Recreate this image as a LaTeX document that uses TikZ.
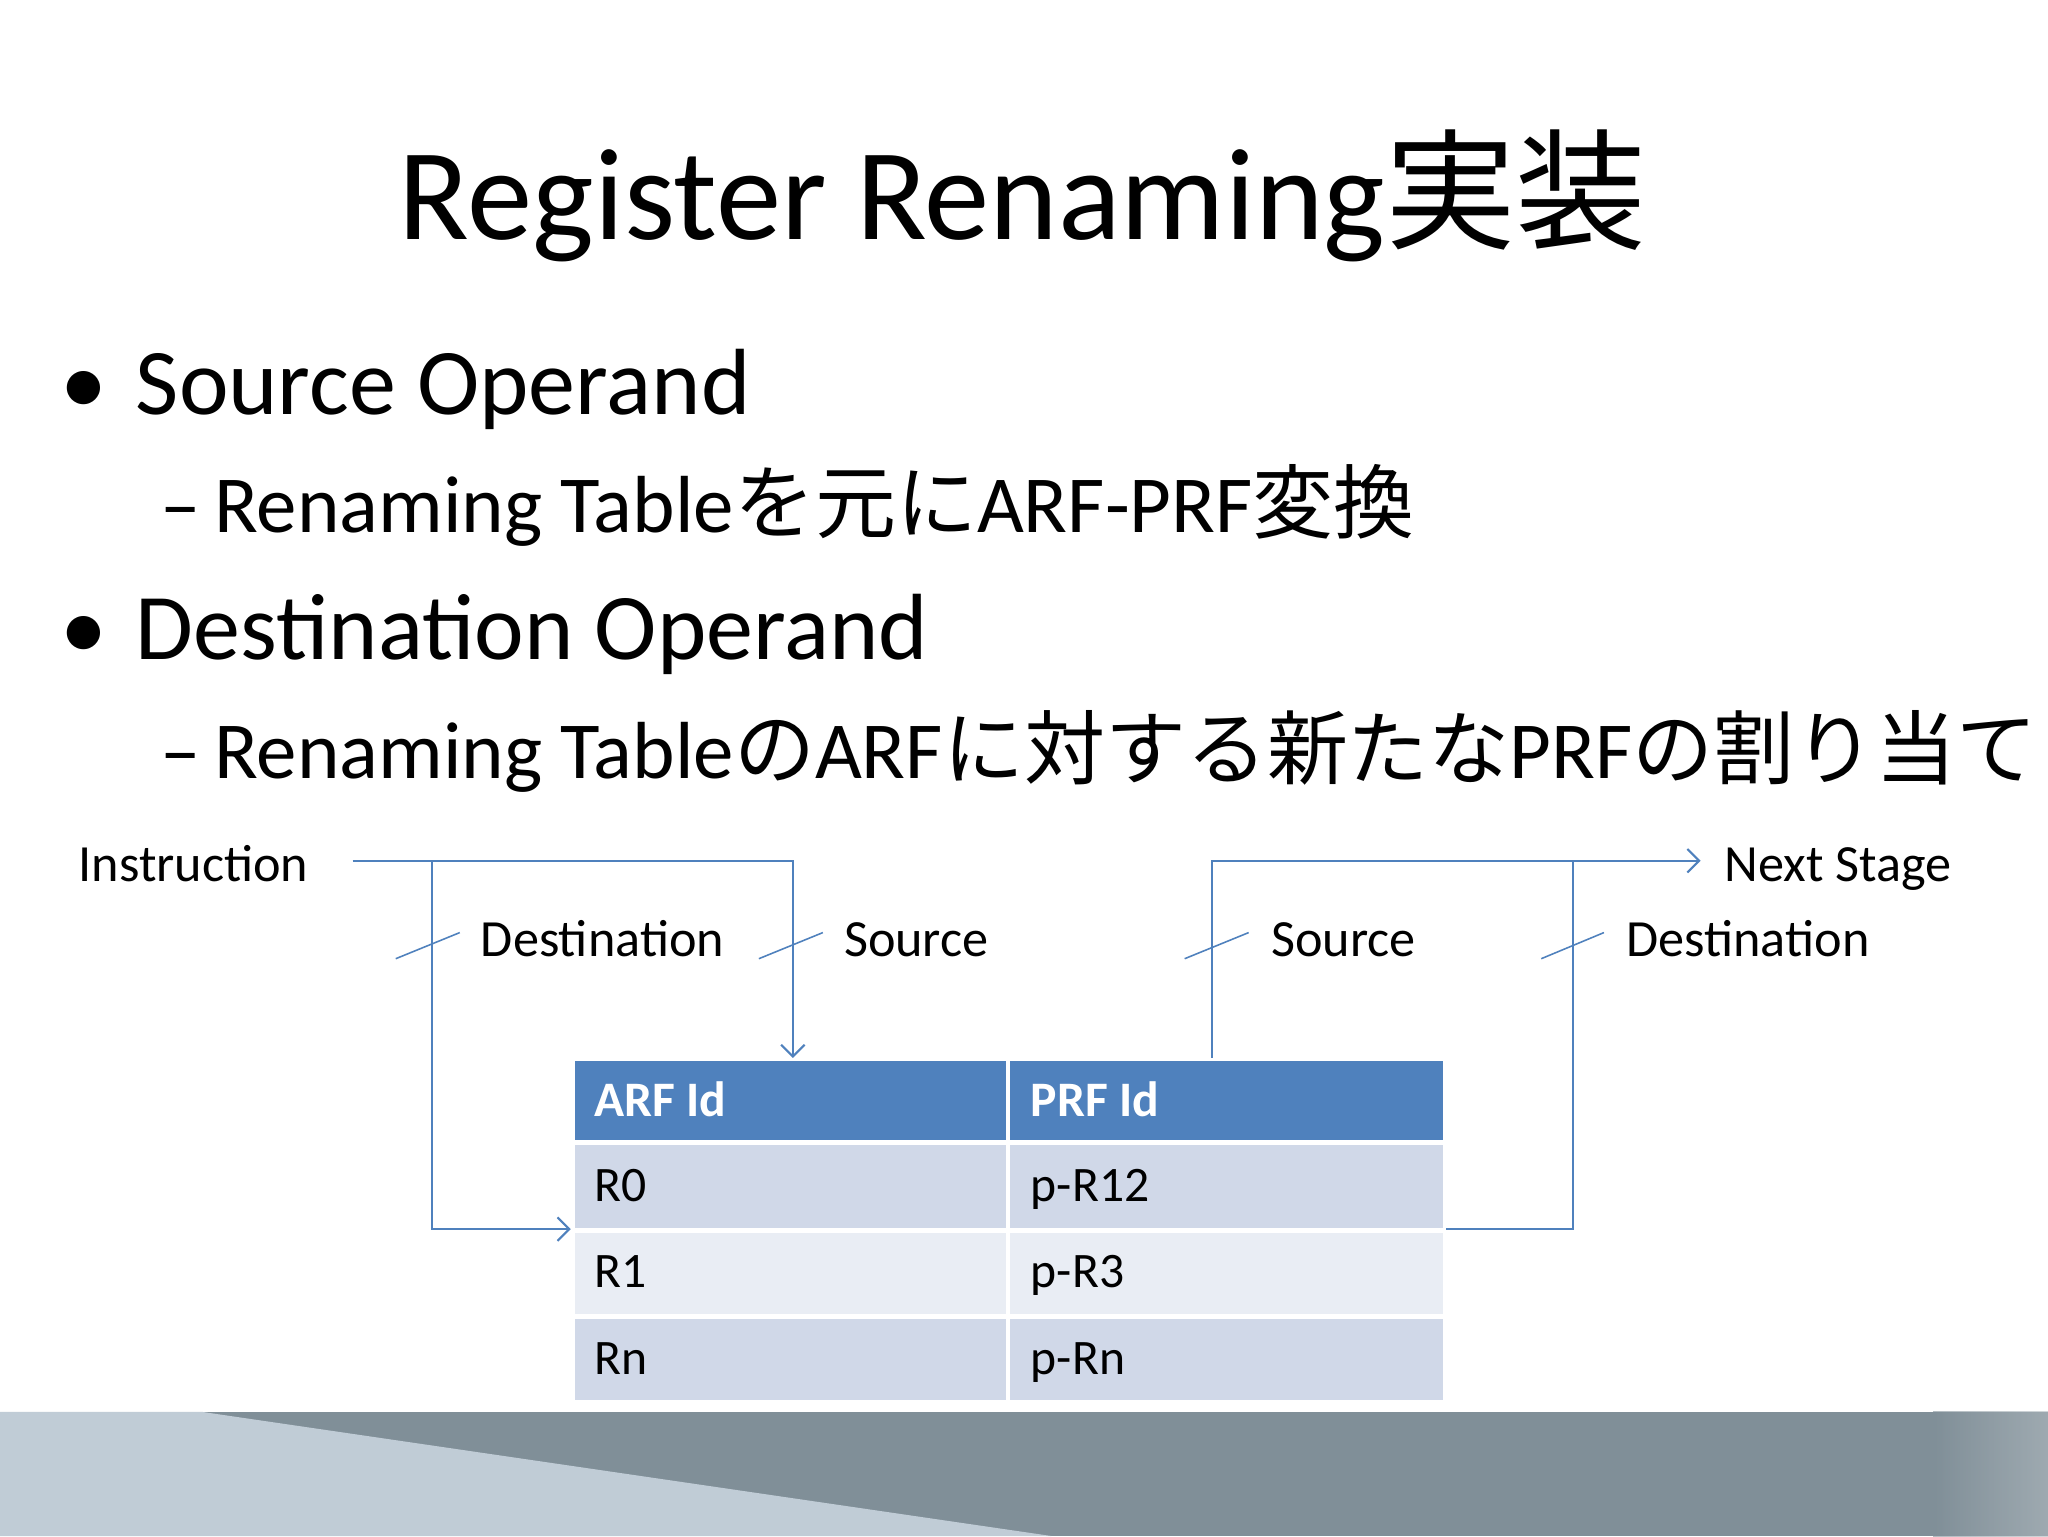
\documentclass[tikz,border=0pt]{standalone}
\usepackage{fontspec}
\setmainfont{Carlito}
\newfontfamily\cjk{Noto Sans CJK JP}
\usetikzlibrary{arrows.meta}
\definecolor{acc}{RGB}{79,129,189}
\definecolor{rowa}{RGB}{208,216,232}
\definecolor{rowb}{RGB}{233,237,244}
\definecolor{bandl}{RGB}{192,204,214}
\definecolor{bandd}{RGB}{128,143,152}
\begin{document}
\begin{tikzpicture}[x=1pt,y=-1pt,
  wire/.style={draw=acc,line width=1.6pt},
  tip/.style={-{Straight Barb[length=9pt,width=18pt,line width=1.6pt]}},
  lbl/.style={anchor=base west,inner sep=0pt,font=\fontsize{40}{44}\selectfont},
  cell/.style={anchor=base west,inner sep=0pt,font=\fontsize{38}{42}\selectfont}]
\useasboundingbox (0,0) rectangle (1568,1176);
\fill[white] (0,0) rectangle (1568,1176);
% bottom band
\fill[bandd] (0,1081) rectangle (1568,1176);
\fill[bandl] (0,1081) -- (155,1081) -- (805,1176) -- (0,1176) -- cycle;
\shade[left color=bandd, right color=bandd!60!white, opacity=0.6] (1480,1081) rectangle (1568,1176);
% title
\node[anchor=base,inner sep=0pt,font=\fontsize{100}{110}\selectfont] (title) at (783,183) {Register Renaming{\cjk 実装}};
% bullets
\node[anchor=base west,inner sep=0pt,font=\fontsize{72}{80}\selectfont] (b1) at (46,317) {•\hspace{22pt}Source Operand};
\node[anchor=base west,inner sep=0pt,font=\fontsize{62}{70}\selectfont] (s1) at (123,408) {–\hspace{10pt}Renaming Table{\cjk を元に}ARF-PRF{\cjk 変換}};
\node[anchor=base west,inner sep=0pt,font=\fontsize{72}{80}\selectfont] (b2) at (46,505) {•\hspace{22pt}Destination Operand};
\node[anchor=base west,inner sep=0pt,font=\fontsize{62}{70}\selectfont] (s2) at (123,596) {–\hspace{10pt}Renaming Table{\cjk の}ARF{\cjk に対する新たな}PRF{\cjk の割り当て}};
% table
\fill[acc] (440,812) rectangle (1105,873);
\fill[rowa] (440,877) rectangle (1105,940);
\fill[rowb] (440,944) rectangle (1105,1006);
\fill[rowa] (440,1010) rectangle (1105,1072);
\draw[white,line width=3pt] (772,812) -- (772,1072);
\node[cell,text=white,font=\fontsize{38}{42}\selectfont\bfseries] (h1) at (455,855) {ARF Id};
\node[cell,text=white,font=\fontsize{38}{42}\selectfont\bfseries] (h2) at (789,855) {PRF Id};
\node[cell] (r0) at (455,920) {R0};
\node[cell] (p0) at (789,920) {p-R12};
\node[cell] (r1) at (455,986) {R1};
\node[cell] (p1) at (789,986) {p-R3};
\node[cell] (rn) at (455,1052) {Rn};
\node[cell] (pn) at (789,1052) {p-Rn};
% coordinates
\coordinate (iend) at (270,659);
\coordinate (srcin) at (607,810);
\coordinate (dstin) at (437,941);
\coordinate (srcout) at (928,810);
\coordinate (nxt) at (1302,659);
\coordinate (dstout) at (1107,941);
% labels
\node[lbl] (instr) at (60,675) {Instruction};
\node[lbl] (nexts) at (1320,675) {Next Stage};
\node[lbl] (ld1) at (368,732) {Destination};
\node[lbl] (ls1) at (646,732) {Source};
\node[lbl] (ls2) at (973,732) {Source};
\node[lbl] (ld2) at (1245,732) {Destination};
% wires
\draw[wire,tip] (iend) -- (607,659) -- (srcin);
\draw[wire,tip] (331,659) -- (331,941) -- (dstin);
\draw[wire,tip] (srcout) -- (928,659) -- (nxt);
\draw[wire] (1204,659) -- (1204,941) -- (dstout);
% slashes
\draw[wire,line width=1.2pt] (303,734) -- (352,714);
\draw[wire,line width=1.2pt] (581,734) -- (630,714);
\draw[wire,line width=1.2pt] (907,734) -- (956,714);
\draw[wire,line width=1.2pt] (1180,734) -- (1228,714);
\end{tikzpicture}
\end{document}
